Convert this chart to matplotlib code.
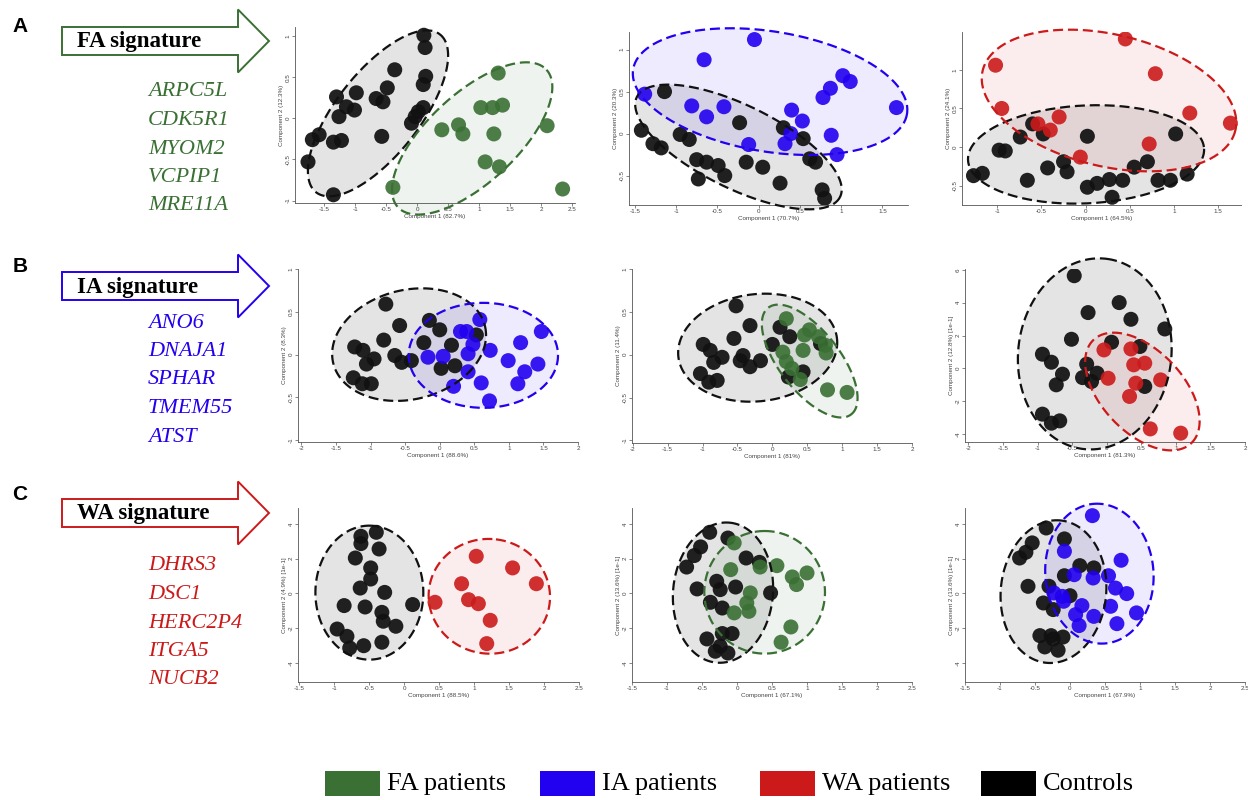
import numpy as np
import matplotlib.pyplot as plt
from matplotlib.patches import Polygon, Rectangle

plt.rcParams['axes.unicode_minus'] = False

W, H = 1248, 800
GREEN = '#3a7034'
BLUE = '#2200f0'
RED = '#cc1a1a'
BLACK = '#111111'

# ---- data ----
a1_ctrl_x = [0.11, 0.13, -0.36, 0.14, 0.10, -0.48, -0.98, -1.30, -0.66, -0.55, -1.14, -1.01,
             0.10, 0.02, -0.03, -1.26, -0.09, -0.57, -1.58, -1.69, -1.35, -1.22, -1.76, -1.35]
a1_ctrl_y = [1.01, 0.86, 0.59, 0.51, 0.41, 0.37, 0.31, 0.26, 0.24, 0.20, 0.14, 0.10,
             0.13, 0.08, 0.02, 0.02, -0.06, -0.22, -0.20, -0.26, -0.29, -0.27, -0.53, -0.93]
a1_fa_x = [1.31, 1.03, 1.22, 1.38, 0.67, 0.40, 0.74, 1.24, 2.10, 1.10, 1.33, -0.39, 2.35]
a1_fa_y = [0.55, 0.13, 0.13, 0.16, -0.08, -0.14, -0.19, -0.19, -0.09, -0.53, -0.59, -0.84, -0.86]

a2_ctrl_x = [-1.14, -1.42, -1.28, -1.18, -0.95, -0.84, -0.75, -0.63, -0.49, -0.41, -0.73,
             -0.23, -0.15, 0.05, 0.26, 0.30, 0.54, 0.62, 0.69, 0.77, 0.80]
a2_ctrl_y = [0.50, 0.04, -0.12, -0.17, -0.01, -0.07, -0.31, -0.34, -0.38, -0.50, -0.54,
             0.13, -0.34, -0.40, -0.59, 0.07, -0.06, -0.30, -0.34, -0.67, -0.77]
a2_ia_x = [-0.05, -0.66, -1.38, -0.81, -0.63, -0.42, 0.40, 0.53, 0.78, 0.87, 1.02, 1.11,
           1.67, 0.88, 0.95, -0.12, 0.32, 0.39]
a2_ia_y = [1.12, 0.88, 0.47, 0.33, 0.20, 0.32, 0.28, 0.15, 0.43, 0.54, 0.69, 0.62,
           0.31, -0.02, -0.25, -0.13, -0.12, 0.0]

a3_ctrl_x = [-0.60, -0.48, -0.74, 0.02, 1.02, -0.98, -0.91, -0.25, -0.43, -0.21, 0.55, 0.70,
             -1.27, -1.17, -0.66, 0.02, 0.13, 0.27, 0.42, 0.30, 0.82, 0.96, 1.15]
a3_ctrl_y = [0.30, 0.17, 0.13, 0.14, 0.17, -0.04, -0.05, -0.19, -0.27, -0.32, -0.26, -0.19,
             -0.37, -0.34, -0.43, -0.52, -0.47, -0.42, -0.43, -0.65, -0.43, -0.43, -0.35]
a3_wa_x = [0.45, -1.02, 0.79, -0.95, 1.18, 1.64, -0.30, -0.54, -0.40, 0.72, -0.06]
a3_wa_y = [1.40, 1.06, 0.95, 0.50, 0.44, 0.31, 0.39, 0.30, 0.22, 0.04, -0.13]

b1_ctrl_x = [-0.78, -0.58, -0.81, -1.23, -1.11, -0.95, -1.06, -0.65, -0.55, -0.41, -1.25,
             -1.12, -0.99, -0.15, 0.0, -0.23, 0.17, 0.02, 0.22, 0.53]
b1_ctrl_y = [0.59, 0.34, 0.17, 0.09, 0.05, -0.05, -0.11, -0.01, -0.09, -0.07, -0.27,
             -0.34, -0.34, 0.40, 0.29, 0.14, 0.11, -0.16, -0.13, 0.23]
b1_ia_x = [0.58, 0.39, 0.30, 0.48, 0.41, -0.17, 0.05, 0.73, 0.99, 1.17, 1.47, 1.42,
           1.23, 1.13, 0.41, 0.60, 0.20, 0.72]
b1_ia_y = [0.41, 0.27, 0.27, 0.12, 0.01, -0.03, -0.02, 0.05, -0.07, 0.14, 0.27, -0.11,
           -0.20, -0.34, -0.20, -0.33, -0.37, -0.54]

b2_ctrl_x = [-0.52, -0.32, -0.55, -0.99, -0.89, -0.72, -0.84, -1.03, -0.91, -0.79, -0.42,
             -0.46, -0.32, -0.17, 0.11, 0.25, 0.0, 0.44, 0.23, 0.69]
b2_ctrl_y = [0.57, 0.34, 0.19, 0.12, 0.05, -0.03, -0.09, -0.22, -0.32, -0.30, -0.01,
             -0.07, -0.14, -0.07, 0.32, 0.21, 0.12, -0.20, -0.26, 0.13]
b2_fa_x = [0.20, 0.53, 0.46, 0.66, 0.76, 0.77, 0.44, 0.15, 0.20, 0.28, 0.40, 0.79, 1.07]
b2_fa_y = [0.42, 0.29, 0.23, 0.21, 0.11, 0.02, 0.05, 0.03, -0.08, -0.16, -0.29, -0.41, -0.44]

b3_ctrl_x = [-0.47, 0.18, -0.27, 0.35, 0.84, -0.51, 0.07, 0.48, -0.93, -0.80, -0.64, -0.73,
             -0.29, -0.35, -0.14, -0.22, 0.55, -0.93, -0.80, -0.68]
b3_ctrl_y = [5.65, 4.01, 3.40, 2.99, 2.40, 1.77, 1.59, 1.33, 0.86, 0.37, -0.36, -1.01,
             0.25, -0.57, -0.30, -0.81, -1.11, -2.80, -3.35, -3.21]
b3_wa_x = [-0.04, 0.35, 0.39, 0.55, 0.02, 0.42, 0.78, 0.33, 0.63, 1.07]
b3_wa_y = [1.12, 1.18, 0.21, 0.31, -0.61, -0.91, -0.71, -1.72, -3.70, -3.96]

c1_ctrl_x = [-0.40, -0.62, -0.62, -0.36, -0.70, -0.48, -0.48, -0.63, -0.28, -0.86, -0.56,
             -0.32, -0.30, -0.12, 0.12, -0.96, -0.82, -0.78, -0.58, -0.32]
c1_ctrl_y = [3.52, 3.29, 2.87, 2.56, 2.04, 1.47, 0.83, 0.31, 0.06, -0.70, -0.78,
             -1.09, -1.60, -1.89, -0.64, -2.05, -2.47, -3.14, -3.01, -2.81]
c1_wa_x = [1.03, 1.55, 1.89, 0.82, 0.92, 1.06, 0.44, 1.23, 1.18]
c1_wa_y = [2.14, 1.47, 0.56, 0.56, -0.36, -0.59, -0.51, -1.55, -2.89]

c2_ctrl_x = [-0.39, -0.13, -0.52, -0.61, -0.72, 0.13, 0.32, -0.29, -0.57, -0.02, -0.24,
             -0.38, -0.21, -0.43, -0.07, -0.31, -0.13, -0.21, 0.48, -0.24]
c2_ctrl_y = [3.52, 3.19, 2.68, 2.18, 1.52, 2.04, 1.79, 0.70, 0.26, 0.37, 0.22,
             -0.51, -0.84, -2.62, -2.31, -3.33, -3.43, -2.31, 0.03, -3.04]
c2_fa_x = [-0.04, -0.09, 0.33, 0.57, 0.79, 1.00, 0.85, 0.19, 0.14, 0.17, -0.04, 0.77, 0.63]
c2_fa_y = [2.91, 1.37, 1.52, 1.60, 0.95, 1.18, 0.51, 0.03, -0.55, -1.03, -1.12, -1.93, -2.81]

c3_ctrl_x = [-0.34, -0.08, -0.54, -0.63, -0.72, -0.60, -0.30, -0.08, 0.14, 0.34, -0.38,
             -0.24, 0.0, -0.43, -0.27, -0.10, -0.36, -0.17, -0.24]
c3_ctrl_y = [3.77, 3.14, 2.91, 2.37, 2.04, 0.41, 0.41, 1.02, 1.60, 1.47, -0.55,
             -0.93, -0.13, -2.43, -2.43, -2.51, -3.08, -3.27, -2.62]
c3_ia_x = [0.32, -0.08, 0.73, 0.06, 0.33, 0.55, 0.65, 0.81, -0.23, -0.11, -0.09, 0.17,
           0.34, 0.08, 0.13, 0.58, 0.67, 0.95]
c3_ia_y = [4.48, 2.43, 1.91, 1.08, 0.89, 1.02, 0.31, -0.01, 0.03, -0.17, -0.45, -0.70,
           -1.32, -1.22, -1.85, -0.74, -1.74, -1.12]

# confidence ellipses: centre x, centre y,
# then two conjugate semi-diameters (ux, uy) and (vx, vy)
a1_ctrl_ell = [-0.63, 0.06, 1.00, 0.96, 0.53, -0.31]
a1_fa_ell = [0.89, -0.245, 1.20, 0.835, 0.485, -0.40]
a2_ctrl_ell = [-0.244, -0.159, 1.231, -0.595, -0.223, -0.444]
a2_ia_ell = [0.139, 0.50, 1.659, -0.266, -0.117, -0.706]
a3_ctrl_ell = [0.005, -0.095, 1.337, 0.073, 0.027, -0.633]
a3_wa_ell = [0.265, 0.603, 1.431, -0.388, -0.174, -0.831]
b1_ctrl_ell = [-0.443, 0.117, 1.098, 0.215, 0.183, -0.621]
b1_ia_ell = [0.631, -0.008, 1.08, 0.0, 0.0, -0.613]
b2_ctrl_ell = [-0.21, 0.082, 1.136, 0.107, 0.086, -0.621]
b2_fa_ell = [0.535, -0.074, 0.596, -0.621, 0.339, 0.219]
b3_ctrl_ell = [-0.173, 0.878, 0.178, 5.80, 1.098, -0.61]
b3_wa_ell = [0.516, -1.419, 0.708, -3.15, 0.429, 1.728]
c1_ctrl_ell = [-0.499, 0.046, 0.0, 3.858, 0.772, 0.0]
c1_wa_ell = [1.217, -0.165, 0.095, 3.28, 0.863, -0.40]
c2_ctrl_ell = [-0.20, 0.046, 0.095, 4.03, 0.71, -0.27]
c2_fa_ell = [0.395, 0.065, 0.0, 3.53, 0.862, 0.0]
c3_ctrl_ell = [-0.236, 0.104, 0.047, 4.11, 0.755, 0.0]
c3_ia_ell = [0.42, 1.14, -0.083, 4.02, 0.77, 0.26]

fa_genes = ['ARPC5L', 'CDK5R1', 'MYOM2', 'VCPIP1', 'MRE11A']
ia_genes = ['ANO6', 'DNAJA1', 'SPHAR', 'TMEM55', 'ATST']
wa_genes = ['DHRS3', 'DSC1', 'HERC2P4', 'ITGA5', 'NUCB2']
legend_labels = ['FA patients', 'IA patients', 'WA patients', 'Controls']

fig = plt.figure(figsize=(W / 100, H / 100), dpi=100)


def px_axes(l, t, r, b):
    return fig.add_axes([l / W, 1 - b / H, (r - l) / W, (b - t) / H])


def draw_ellipse(ax, ell, color, alpha):
    cx, cy, ux, uy, vx, vy = ell
    t = np.linspace(0, 2 * np.pi, 240)
    ex = cx + ux * np.cos(t) + vx * np.sin(t)
    ey = cy + uy * np.cos(t) + vy * np.sin(t)
    ax.fill(ex, ey, color=color, alpha=alpha, lw=0, zorder=1, clip_on=False)
    ax.plot(ex, ey, color=color, lw=1.6, linestyle=(0, (4.5, 2.2)), zorder=4, clip_on=False)


def fmt(v):
    return '{:g}'.format(v)


x15 = np.arange(-1.5, 2.51, 0.5)
x2 = np.arange(-2, 2.01, 0.5)
panels = [
    ((295, 27, 575, 203), (-1.97, 2.55), (-1.03, 1.11), x15, np.arange(-1, 1.01, 0.5),
     'Component 1 (82.7%)', 'Component 2 (12.3%)',
     a1_ctrl_x, a1_ctrl_y, a1_ctrl_ell, a1_fa_x, a1_fa_y, a1_fa_ell, GREEN),
    ((629, 32, 908, 205), (-1.57, 1.81), (-0.85, 1.21), np.arange(-1.5, 1.51, 0.5),
     np.arange(-0.5, 1.01, 0.5), 'Component 1 (70.7%)', 'Component 2 (20.3%)',
     a2_ctrl_x, a2_ctrl_y, a2_ctrl_ell, a2_ia_x, a2_ia_y, a2_ia_ell, BLUE),
    ((962, 32, 1241, 205), (-1.40, 1.76), (-0.75, 1.49), np.arange(-1, 1.51, 0.5),
     np.arange(-0.5, 1.01, 0.5), 'Component 1 (64.5%)', 'Component 2 (24.1%)',
     a3_ctrl_x, a3_ctrl_y, a3_ctrl_ell, a3_wa_x, a3_wa_y, a3_wa_ell, RED),
    ((298, 269, 578, 442), (-2.05, 2.0), (-1.02, 1.0), x2, np.arange(-1, 1.01, 0.5),
     'Component 1 (88.6%)', 'Component 2 (8.3%)',
     b1_ctrl_x, b1_ctrl_y, b1_ctrl_ell, b1_ia_x, b1_ia_y, b1_ia_ell, BLUE),
    ((632, 269, 912, 443), (-2.01, 2.0), (-1.03, 1.0), x2, np.arange(-1, 1.01, 0.5),
     'Component 1 (81%)', 'Component 2 (11.4%)',
     b2_ctrl_x, b2_ctrl_y, b2_ctrl_ell, b2_fa_x, b2_fa_y, b2_fa_ell, GREEN),
    ((965, 269, 1245, 442), (-2.05, 2.0), (-4.5, 6.06), x2, np.arange(-4, 6.1, 2),
     'Component 1 (81.3%)', 'Component 2 (12.8%) [1e-1]',
     b3_ctrl_x, b3_ctrl_y, b3_ctrl_ell, b3_wa_x, b3_wa_y, b3_wa_ell, RED),
    ((298, 508, 579, 682), (-1.52, 2.5), (-5.1, 4.92), x15, np.arange(-4, 4.1, 2),
     'Component 1 (88.5%)', 'Component 2 (4.9%) [1e-1]',
     c1_ctrl_x, c1_ctrl_y, c1_ctrl_ell, c1_wa_x, c1_wa_y, c1_wa_ell, RED),
    ((632, 508, 912, 682), (-1.5, 2.5), (-5.1, 4.92), x15, np.arange(-4, 4.1, 2),
     'Component 1 (67.1%)', 'Component 2 (13.6%) [1e-1]',
     c2_ctrl_x, c2_ctrl_y, c2_ctrl_ell, c2_fa_x, c2_fa_y, c2_fa_ell, GREEN),
    ((965, 508, 1245, 682), (-1.49, 2.5), (-5.1, 4.92), x15, np.arange(-4, 4.1, 2),
     'Component 1 (67.9%)', 'Component 2 (13.6%) [1e-1]',
     c3_ctrl_x, c3_ctrl_y, c3_ctrl_ell, c3_ia_x, c3_ia_y, c3_ia_ell, BLUE),
]

for box, xl, yl, xt, yt, xlab, ylab, cx, cy, cell, px, py, pell, col in panels:
    ax = px_axes(*box)
    draw_ellipse(ax, cell, BLACK, 0.11)
    draw_ellipse(ax, pell, col, 0.08)
    ax.scatter(cx, cy, s=117, color=BLACK, alpha=0.93, edgecolors='none', zorder=2)
    ax.scatter(px, py, s=117, color=col, alpha=0.9, edgecolors='none', zorder=3)
    ax.set_xlim(xl)
    ax.set_ylim(yl)
    ax.set_xticks(xt)
    ax.set_xticklabels([fmt(v) for v in xt])
    ax.set_yticks(yt)
    ax.set_yticklabels([fmt(v) for v in yt])
    for s in ['top', 'right']:
        ax.spines[s].set_visible(False)
    for s in ['left', 'bottom']:
        ax.spines[s].set_color('#555555')
        ax.spines[s].set_linewidth(0.6)
    ax.tick_params(labelsize=4.5, labelcolor='#444444', color='#555555',
                   length=2, width=0.5, pad=1)
    ax.tick_params(axis='y', labelrotation=90)
    for lab in ax.get_yticklabels():
        lab.set_va('center')
    ax.set_xlabel(xlab, fontsize=4.5, color='#444444', labelpad=1, family='Liberation Sans')
    ax.set_ylabel(ylab, fontsize=4.5, color='#444444', labelpad=1, family='Liberation Sans')
    for lab in ax.get_xticklabels() + ax.get_yticklabels():
        lab.set_family('Liberation Sans')

# ---- left side: signature arrows and gene lists ----
rows = [('A', 26, 'FA signature', 41, GREEN, fa_genes, 92),
        ('B', 266, 'IA signature', 286, BLUE, ia_genes, 323),
        ('C', 494, 'WA signature', 513, RED, wa_genes, 566)]


def fx(x):
    return x / W


def fy(y):
    return 1 - y / H


for letter, ly, title, cyy, col, genes, gy in rows:
    fig.text(fx(20), fy(ly), letter, fontsize=15, fontweight='bold',
             family='Liberation Sans', ha='center', va='center')
    pts = [(62, cyy - 14), (238, cyy - 14), (238, cyy - 31.5), (269, cyy),
           (238, cyy + 31.5), (238, cyy + 14), (62, cyy + 14)]
    fig.patches.append(Polygon([(fx(a), fy(b)) for a, b in pts], closed=True,
                               transform=fig.transFigure, facecolor='white',
                               edgecolor=col, lw=1.4))
    fig.text(fx(77), fy(cyy + 1), title, fontsize=16.5, fontweight='bold',
             family='Liberation Serif', ha='left', va='center')
    for i, g in enumerate(genes):
        fig.text(fx(148), fy(gy + i * 28.5), g, fontsize=16, style='italic',
                 family='Liberation Serif', color=col, ha='left', va='center')

# ---- legend ----
leg_colors = [GREEN, BLUE, RED, '#000000']
leg_x = [325, 540, 760, 981]
for lx, lab, c in zip(leg_x, legend_labels, leg_colors):
    fig.patches.append(Rectangle((fx(lx), fy(796)), 55 / W, 25 / H,
                                 transform=fig.transFigure, facecolor=c,
                                 edgecolor='none'))
    fig.text(fx(lx + 62), fy(784), lab, fontsize=19, family='Liberation Serif',
             ha='left', va='center')

fig.savefig('out.png', dpi=100)
